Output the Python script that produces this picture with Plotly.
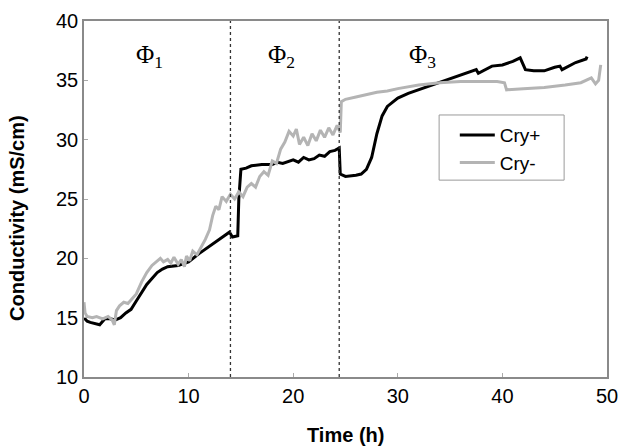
import plotly.graph_objects as go

# Cry+ (black) series
t_plus = [0, 0.3, 0.6, 1.0, 1.5, 2.0, 2.5, 3.0, 3.5, 4.0, 4.5, 5.0, 5.5, 6.0, 6.5, 7.0, 7.5, 8.0,
          9.0, 10.0, 11.0, 12.0, 13.0, 13.9, 14.2, 14.7, 14.8, 15.0, 15.5, 16.0, 17.0, 18.0, 18.5,
          19.0, 20.0, 20.5, 21.0, 21.5, 22.0, 22.5, 23.0, 23.5, 24.0, 24.4, 24.5, 25.0, 26.0, 26.5,
          27.0, 27.5, 28.0, 28.5, 29.0, 30.0, 31.0, 32.0, 33.0, 34.0, 35.0, 36.0, 37.0, 37.5, 37.7,
          38.5, 39.0, 40.0, 41.0, 41.7, 42.2, 43.0, 44.0, 45.0, 45.5, 45.7, 46.5, 47.0, 48.0, 48.1]
y_plus = [15.0, 14.7, 14.6, 14.5, 14.4, 14.9, 14.9, 14.8, 15.0, 15.4, 15.7, 16.4, 17.1, 17.8, 18.3, 18.8, 19.1, 19.3,
          19.4, 19.7, 20.4, 21.0, 21.6, 22.2, 21.8, 21.9, 25.0, 27.5, 27.6, 27.8, 27.9, 27.9, 28.1,
          28.0, 28.3, 28.1, 28.5, 28.3, 28.4, 28.7, 28.6, 29.0, 29.1, 29.3, 27.1, 26.9, 27.0, 27.1,
          27.5, 28.5, 30.5, 32.0, 32.8, 33.5, 33.9, 34.2, 34.5, 34.8, 35.1, 35.4, 35.7, 35.9, 35.6,
          36.0, 36.2, 36.3, 36.6, 36.9, 35.9, 35.8, 35.8, 36.1, 36.2, 35.9, 36.3, 36.5, 36.8, 37.0]

# Cry- (gray) series
t_minus = [0, 0.1, 0.3, 0.8, 1.2, 1.8, 2.3, 2.7, 2.9, 3.1, 3.4, 3.8, 4.2, 4.6, 5.0, 5.5, 6.0, 6.5,
           7.0, 7.3, 7.6, 8.0, 8.3, 8.6, 9.0, 9.3, 9.6, 9.8, 10.1, 10.4, 10.8, 11.2, 11.6, 12.0, 12.3,
           12.6, 12.9, 13.2, 13.6, 14.0, 14.4, 14.8, 15.2, 15.6, 16.0, 16.4, 16.8, 17.2, 17.6, 18.0,
           18.4, 18.8, 19.2, 19.6, 20.0, 20.3, 20.6, 21.0, 21.4, 21.8, 22.2, 22.6, 23.0, 23.4, 23.8,
           24.2, 24.5, 24.6, 25.0, 26.0, 27.0, 28.0, 29.0, 30.0, 32.0, 34.0, 36.0, 38.0, 39.5, 40.2,
           40.4, 42.0, 44.0, 46.0, 47.5, 48.5, 48.9, 49.2, 49.4]
y_minus = [16.3, 15.4, 15.1, 15.0, 15.1, 14.9, 15.1, 14.8, 14.4, 15.6, 16.0, 16.3, 16.2, 16.6, 17.0, 18.0, 18.8, 19.4,
           19.8, 20.0, 19.7, 19.9, 19.6, 20.1, 19.5, 19.9, 19.3, 20.2, 19.8, 20.6, 20.3, 20.9, 21.6, 22.4, 23.6,
           24.4, 24.1, 25.2, 24.8, 25.4, 25.0, 25.6, 25.2, 26.0, 26.3, 26.0, 26.9, 27.3, 27.0, 28.2,
           28.0, 29.2, 29.8, 30.7, 30.3, 30.9, 29.6, 30.2, 29.5, 30.5, 29.9, 30.8, 30.2, 31.0, 30.4,
           31.2, 30.6, 33.2, 33.4, 33.6, 33.8, 34.0, 34.1, 34.3, 34.6, 34.8, 34.9, 34.9, 34.9, 34.8,
           34.2, 34.3, 34.4, 34.6, 34.8, 35.2, 34.7, 35.0, 36.3]

phase_x = [14.0, 24.4]
phase_labels = ["Φ<sub>1</sub>", "Φ<sub>2</sub>", "Φ<sub>3</sub>"]
phase_label_x = [6.3, 18.9, 32.4]

x_ticks = [0, 10, 20, 30, 40, 50]
y_ticks = [10, 15, 20, 25, 30, 35, 40]

fig = go.Figure()
fig.add_trace(go.Scatter(x=t_plus, y=y_plus, mode="lines", name="Cry+",
                         line=dict(color="black", width=3)))
fig.add_trace(go.Scatter(x=t_minus, y=y_minus, mode="lines", name="Cry-",
                         line=dict(color="#b4b4b4", width=3)))

for px in phase_x:
    fig.add_shape(type="line", x0=px, x1=px, y0=10, y1=40, xref="x", yref="y",
                  line=dict(color="#333333", width=1.3, dash="dot"))

# legend frame
fig.add_shape(type="rect", xref="paper", yref="paper", x0=0.679, x1=0.918, y0=0.553, y1=0.736,
              line=dict(color="#9a9a9a", width=1), fillcolor="white", layer="above")

for lx, lab in zip(phase_label_x, phase_labels):
    fig.add_annotation(x=lx, y=37.0, text=lab, showarrow=False, xref="x", yref="y",
                       font=dict(family="Liberation Serif", size=25, color="black"))

# axis titles as annotations for exact placement
fig.add_annotation(x=0.5, y=-0.163, xref="paper", yref="paper", text="<b>Time (h)</b>",
                   showarrow=False, yanchor="middle",
                   font=dict(family="Liberation Sans", size=20, color="black"))
fig.add_annotation(x=-0.128, y=0.447, xref="paper", yref="paper", text="<b>Conductivity (mS/cm)</b>",
                   showarrow=False, textangle=-90, xanchor="center", yanchor="middle",
                   font=dict(family="Liberation Sans", size=20, color="black"))

axis_common = dict(showgrid=False, zeroline=False, showline=True, linecolor="#8a8a8a", linewidth=1.5,
                   mirror=True, ticks="inside", ticklen=4, tickcolor="#aaaaaa", automargin=False,
                   tickfont=dict(family="Liberation Sans", size=20, color="black"))

fig.update_xaxes(range=[0, 50], tickvals=x_ticks, **axis_common)
fig.update_yaxes(range=[10, 40], tickvals=y_ticks, **axis_common)

fig.update_layout(
    width=619, height=446,
    margin=dict(l=84, r=12, t=21, b=69),
    plot_bgcolor="white", paper_bgcolor="white",
    showlegend=True,
    legend=dict(x=0.709, y=0.733, xanchor="left", yanchor="top",
                borderwidth=0, bgcolor="rgba(0,0,0,0)",
                font=dict(family="Liberation Sans", size=19, color="black"),
                itemwidth=35),
)

# remove the page's default body margin so the figure sits at the window's top-left corner
fig.write_html("out.html", config={"displayModeBar": False},
               post_script="document.body.style.margin='0';document.body.style.overflow='hidden';")
